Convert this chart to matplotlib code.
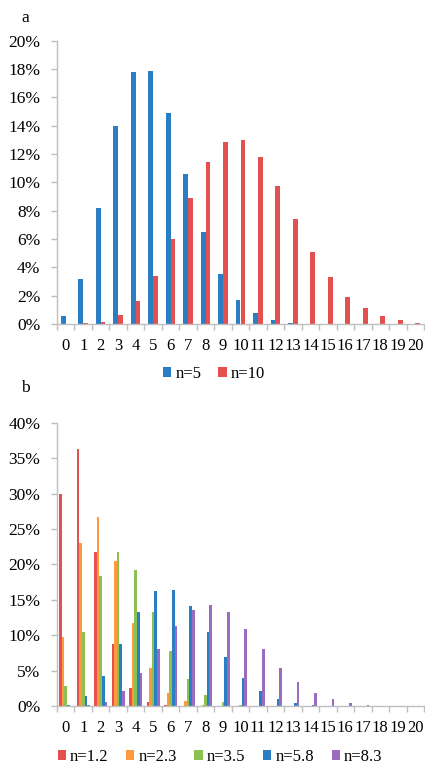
import matplotlib
matplotlib.use("Agg")
import matplotlib.pyplot as plt
import matplotlib.ticker as mticker
import numpy as np

# categories 0..20
cats = list(range(21))
cat_labels = [str(c) for c in cats]

# panel a (percent)
a_n5 = [0.56, 3.15, 8.2, 13.97, 17.76, 17.85, 14.87, 10.59, 6.5, 3.53, 1.69,
        0.75, 0.28, 0.05, 0.02, 0, 0, 0, 0, 0, 0]
a_n10 = [0.0, 0.05, 0.15, 0.64, 1.65, 3.4, 6.0, 8.87, 11.41, 12.87, 12.98,
         11.8, 9.76, 7.39, 5.1, 3.32, 1.93, 1.1, 0.56, 0.26, 0.1]

# panel b (percent)
b_n12 = [29.9, 36.3, 21.7, 8.7, 2.6, 0.5, 0.1, 0, 0, 0, 0, 0, 0, 0, 0, 0, 0, 0, 0, 0, 0]
b_n23 = [9.7, 23.0, 26.7, 20.5, 11.7, 5.3, 1.9, 0.66, 0.2, 0.05, 0, 0, 0, 0, 0, 0, 0, 0, 0, 0, 0]
b_n35 = [2.8, 10.4, 18.4, 21.7, 19.2, 13.3, 7.7, 3.8, 1.6, 0.5, 0.15, 0.03, 0, 0, 0, 0, 0, 0, 0, 0, 0]
b_n58 = [0.15, 1.4, 4.2, 8.7, 13.3, 16.2, 16.4, 14.1, 10.5, 6.9, 4.0, 2.1, 1.0, 0.4, 0.15, 0.05, 0, 0, 0, 0, 0]
b_n83 = [0.02, 0.1, 0.6, 2.1, 4.6, 8.0, 11.3, 13.6, 14.3, 13.3, 10.9, 8.1, 5.4, 3.4, 1.8, 1.0, 0.4, 0.2, 0.05, 0.02, 0]

series_a = [("n=5", a_n5, "#2a7fc4"), ("n=10", a_n10, "#e45050")]
series_b = [("n=1.2", b_n12, "#e45050"), ("n=2.3", b_n23, "#ff9a3c"),
            ("n=3.5", b_n35, "#8cc152"), ("n=5.8", b_n58, "#2a7fc4"),
            ("n=8.3", b_n83, "#9b6bbf")]

plt.rcParams['font.family'] = ['Liberation Serif', 'DejaVu Serif']
axis_col = "#bfbfbf"

fig = plt.figure(figsize=(4.25, 7.65), dpi=100)
W, H = 425, 765


def make_ax(top_px, bottom_px):
    return fig.add_axes([57 / W, 1 - bottom_px / H, (424 - 57) / W, (bottom_px - top_px) / H])


def style(ax, ymax, step):
    x = np.arange(len(cats))
    ax.set_xlim(-0.5, len(cats) - 0.5)
    ax.set_ylim(0, ymax)
    ax.set_yticks(np.arange(0, ymax + 0.01, step))
    ax.yaxis.set_major_formatter(mticker.FuncFormatter(lambda v, p: f"{v:.0f}%"))
    ax.set_xticks(x)
    ax.set_xticklabels(cat_labels)
    ax.set_xticks(np.arange(-0.5, len(cats), 1), minor=True)
    ax.tick_params(axis='x', which='major', length=0, pad=10, labelsize=12)
    ax.tick_params(axis='x', which='minor', length=4, color=axis_col, width=1)
    ax.tick_params(axis='y', length=4, color=axis_col, width=1, labelsize=12.5, pad=8)
    for s in ['top', 'right']:
        ax.spines[s].set_visible(False)
    for s in ['left', 'bottom']:
        ax.spines[s].set_color(axis_col)
        ax.spines[s].set_linewidth(1)


leg_kw = dict(frameon=False, fontsize=12, handlelength=0.5, handleheight=0.5,
              handletextpad=0.25, borderpad=0)

# panel a
ax1 = make_ax(40.7, 324)
x = np.arange(len(cats))
w = 0.27
for i, (lab, vals, col) in enumerate(series_a):
    ax1.bar(x + (i - 0.5) * w, vals, width=w, color=col, label=lab)
style(ax1, 20, 2)
fig.text(25 / W, 1 - 18 / H, "a", fontsize=12.5, ha='center', va='center')
ax1.legend(loc='center', bbox_to_anchor=(214 / W, 1 - 374 / H), bbox_transform=fig.transFigure,
           ncol=2, columnspacing=1.0, **leg_kw)

# panel b
ax2 = make_ax(422.7, 706)
w = 0.15
for i, (lab, vals, col) in enumerate(series_b):
    ax2.bar(x + (i - 2) * w, vals, width=w, color=col, label=lab)
style(ax2, 40, 5)
fig.text(25 / W, 1 - 388 / H, "b", fontsize=12.5, ha='center', va='center')
ax2.legend(loc='center', bbox_to_anchor=(220 / W, 1 - 757 / H), bbox_transform=fig.transFigure,
           ncol=5, columnspacing=1.05, **leg_kw)

fig.savefig("out.png", dpi=100)
